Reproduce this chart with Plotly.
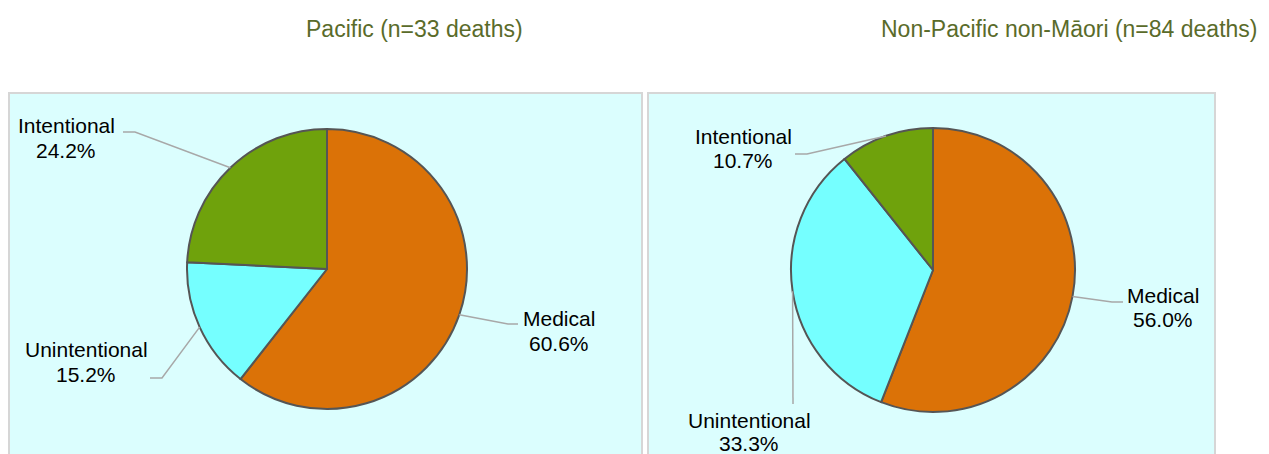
import math
import plotly.graph_objects as go

# ---------------- data ----------------
categories = ["Medical", "Unintentional", "Intentional"]
pacific_deaths = [20, 5, 8]          # n = 33
non_pacific_deaths = [47, 28, 9]     # n = 84
panel_titles = ["Pacific (n=33 deaths)", "Non-Pacific non-Māori (n=84 deaths)"]
slice_colors = ["#DB7207", "#75FFFF", "#6FA20C"]

# ---------------- layout helpers ----------------
W, H = 1269, 454
FONT = "Liberation Sans, Arial, Helvetica, sans-serif"


def px(x):
    return x / W


def py(y):
    return 1 - y / H


# pie geometry (pixel centre, radius)
pies = [
    dict(values=pacific_deaths, cx=327, cy=269, r=140,
         panel=(9, 642), title_x=415,
         labels={  # line1 centre, line2 centre, leader start, elbow
             "Medical": ((559, 318), (559, 343), (518, 324), (508, 324)),
             "Unintentional": ((86, 349), (86, 374), (150, 378), (162, 378)),
             "Intentional": ((66, 126), (66, 150), (123, 132), (135, 132)),
         }),
    dict(values=non_pacific_deaths, cx=933, cy=270, r=142,
         panel=(648, 1215), title_x=1069,
         labels={
             "Medical": ((1163, 295), (1163, 319), (1123, 302), (1112, 302)),
             "Unintentional": ((749, 420), (749, 443), (793, 404), (793, 404)),
             "Intentional": ((743, 136), (743, 160), (795, 154), (807, 154)),
         }),
]

fig = go.Figure()
shapes = []
annotations = []

for i, p in enumerate(pies):
    x0p, x1p = p["panel"]
    shapes.append(dict(type="rect", xref="paper", yref="paper",
                       x0=px(x0p), x1=px(x1p), y0=-0.05, y1=py(93),
                       fillcolor="#DBFEFE", line=dict(color="#D6D6D6", width=2),
                       layer="below"))
    annotations.append(dict(text=panel_titles[i], xref="paper", yref="paper",
                            x=px(p["title_x"]), y=py(29), xanchor="center", yanchor="middle",
                            showarrow=False, font=dict(family=FONT, size=23, color="#5A6B2A")))

    cx, cy, r = p["cx"], p["cy"], p["r"]
    fig.add_trace(go.Pie(
        labels=categories, values=p["values"], sort=False, direction="clockwise",
        rotation=0, textinfo="none", hoverinfo="label+percent",
        marker=dict(colors=slice_colors, line=dict(color="#555555", width=2)),
        domain=dict(x=[px(cx - r), px(cx + r)], y=[py(cy + r), py(cy - r)]),
        showlegend=False,
    ))

    total = sum(p["values"])
    cum = 0.0
    for cat, v in zip(categories, p["values"]):
        mid = (cum + v / 2) / total * 2 * math.pi
        cum += v
        ex = cx + r * math.sin(mid)
        ey = cy - r * math.cos(mid)
        (l1, l2, start, elbow) = p["labels"][cat]
        pct = f"{100 * v / total:.1f}%"
        annotations.append(dict(text=cat, xref="paper", yref="paper", x=px(l1[0]), y=py(l1[1]),
                                xanchor="center", yanchor="middle", showarrow=False,
                                font=dict(family=FONT, size=21, color="#000000")))
        annotations.append(dict(text=pct, xref="paper", yref="paper", x=px(l2[0]), y=py(l2[1]),
                                xanchor="center", yanchor="middle", showarrow=False,
                                font=dict(family=FONT, size=21, color="#000000")))
        path = (f"M {px(start[0])},{py(start[1])} L {px(elbow[0])},{py(elbow[1])} "
                f"L {px(ex)},{py(ey)}")
        shapes.append(dict(type="path", xref="paper", yref="paper", path=path,
                           line=dict(color="#A8A8A8", width=1.5)))

fig.update_layout(
    width=W, height=H,
    margin=dict(l=0, r=0, t=0, b=0),
    paper_bgcolor="white", plot_bgcolor="white",
    shapes=shapes, annotations=annotations,
    showlegend=False,
)

fig.write_html("out.html",
               config={"displayModeBar": False},
               post_script="document.body.style.margin='0px';document.body.style.overflow='hidden';")
